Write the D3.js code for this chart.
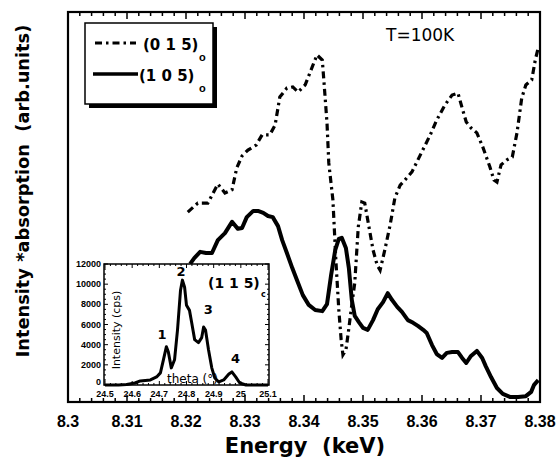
<!DOCTYPE html>
<html>
<head>
<meta charset="utf-8">
<script src="https://cdn.jsdelivr.net/npm/d3@7"></script>
<style>
  body { margin: 0; background: #fff; }
  svg { display: block; }
</style>
</head>
<body>
<svg id="chart" width="558" height="462"></svg>
<script>
// main spectra, (0 1 5)o dash-dot and (1 0 5)o solid
let energy015 = [8.3203, 8.3220, 8.3237, 8.3254, 8.3266, 8.3278, 8.3286, 8.3295, 8.3305, 8.3319,
  8.3329, 8.3342, 8.3351, 8.3359, 8.3371, 8.3381, 8.3390, 8.3402, 8.3410, 8.3422,
  8.3431, 8.3434, 8.3439, 8.3442, 8.3449, 8.3454, 8.3459, 8.3463, 8.3466, 8.3471,
  8.3475, 8.3481, 8.3486, 8.3492, 8.3498, 8.3503, 8.3508, 8.3517, 8.3524, 8.3529,
  8.3537, 8.3546, 8.3554, 8.3563, 8.3571, 8.3583, 8.3597, 8.3614, 8.3625, 8.3639,
  8.3651, 8.3661, 8.3668, 8.3675, 8.3683, 8.3693, 8.3703, 8.3715, 8.3722, 8.3727,
  8.3734, 8.3744, 8.3753, 8.3761, 8.3769, 8.3776, 8.3786, 8.3792, 8.3797]
let absorb015 = [48.7, 51.0, 51.0, 55.9, 53.6, 54.4, 60.0, 63.1, 64.6, 65.9,
  68.5, 68.5, 71.0, 78.2, 80.5, 80.8, 79.5, 81.3, 84.4, 89.0,
  87.7, 81.8, 71.5, 61.3, 51.8, 36.4, 23.6, 15.9, 12.1, 13.3,
  17.7, 24.9, 30.5, 44.9, 51.3, 51.0, 46.7, 39.0, 35.1, 33.8,
  39.0, 45.4, 52.3, 55.6, 56.9, 59.0, 63.3, 68.5, 72.3, 76.2,
  78.7, 79.2, 75.4, 71.8, 70.3, 69.0, 65.4, 60.3, 56.9, 56.4,
  60.8, 62.1, 62.8, 69.0, 77.9, 81.3, 82.6, 87.7, 90.8]

let energy105 = [8.3207, 8.3214, 8.3224, 8.3234, 8.3244, 8.3254, 8.3266, 8.3278, 8.3288, 8.3295,
  8.3303, 8.3314, 8.3322, 8.3331, 8.3339, 8.3347, 8.3356, 8.3363, 8.3371, 8.3380,
  8.3388, 8.3398, 8.3408, 8.3419, 8.3431, 8.3439, 8.3446, 8.3453, 8.3459, 8.3464,
  8.3471, 8.3476, 8.3481, 8.3486, 8.3493, 8.3500, 8.3508, 8.3517, 8.3525, 8.3534,
  8.3542, 8.3549, 8.3558, 8.3566, 8.3576, 8.3585, 8.3593, 8.3602, 8.3608, 8.3617,
  8.3625, 8.3634, 8.3642, 8.3651, 8.3661, 8.3668, 8.3675, 8.3683, 8.3693, 8.3702,
  8.3708, 8.3717, 8.3727, 8.3737, 8.3749, 8.3763, 8.3776, 8.3785, 8.3790, 8.3797]
let absorb105 = [35.4, 36.9, 38.5, 38.2, 38.2, 41.5, 43.3, 46.2, 44.4, 44.6,
  47.4, 49.0, 49.0, 48.5, 47.7, 47.4, 45.1, 41.5, 38.2, 34.4,
  31.3, 27.4, 24.9, 23.6, 23.3, 25.1, 32.6, 39.0, 41.8, 42.1,
  39.5, 34.4, 26.2, 22.1, 20.5, 19.0, 18.5, 21.0, 23.8, 25.6,
  27.9, 26.2, 24.4, 23.1, 21.0, 20.3, 19.5, 18.5, 17.7, 14.6,
  12.3, 11.3, 12.6, 12.8, 12.8, 11.3, 10.0, 11.8, 13.1, 11.3,
  9.2, 6.4, 3.6, 2.1, 1.3, 1.3, 1.5, 2.6, 4.4, 5.6]

// inset: rocking scan of (1 1 5)c
let thetaInset = [24.5, 24.55, 24.58, 24.61, 24.63, 24.667, 24.69, 24.704, 24.715, 24.726,
  24.733, 24.744, 24.756, 24.767, 24.778, 24.785, 24.793, 24.80, 24.811, 24.819,
  24.83, 24.844, 24.856, 24.863, 24.87, 24.881, 24.893, 24.904, 24.919, 24.937,
  24.956, 24.967, 24.981, 24.996, 25.019, 25.1]
let cpsInset = [0, 0, 50, 200, 400, 500, 800, 1200, 2500, 3800,
  3300, 1700, 2500, 5500, 9400, 10400, 9700, 7900, 7400, 6200,
  4500, 4200, 4700, 5750, 5450, 3500, 1700, 700, 300, 500,
  1100, 1300, 800, 200, 0, 0]

let xTicks = [8.3, 8.31, 8.32, 8.33, 8.34, 8.35, 8.36, 8.37, 8.38]
let xTickLabels = ["8.3", "8.31", "8.32", "8.33", "8.34", "8.35", "8.36", "8.37", "8.38"]
let insetXTicks = [24.5, 24.6, 24.7, 24.8, 24.9, 25, 25.1]
let insetYTicks = [0, 2000, 4000, 6000, 8000, 10000, 12000]
let peakNames = ["1", "2", "3", "4"]
let peakTheta = [24.71, 24.78, 24.88, 24.98]
let peakCps = [4600, 10800, 7000, 2200]

let svg = d3.select("#chart")
let boldFont = "'Liberation Sans', Arial, sans-serif"
let wideFont = "'DejaVu Sans', sans-serif"

let plotLeft = 68, plotRight = 540, plotTop = 12, plotBottom = 402

let x = d3.scaleLinear().domain([8.3, 8.38]).range([plotLeft, plotRight])
let y = d3.scaleLinear().domain([0, 100]).range([plotBottom, plotTop])

// frame
svg.append("rect")
    .attr("x", plotLeft).attr("y", plotTop)
    .attr("width", plotRight - plotLeft).attr("height", plotBottom - plotTop)
    .attr("fill", "none").attr("stroke", "#000").attr("stroke-width", 2.2)

// inward ticks top & bottom
let minorTicks = d3.range(0, 41).map(i => 8.3 + i * 0.002)
minorTicks.forEach((t, i) => {
    let len = (i % 5 === 0) ? 7 : 4
    svg.append("line").attr("x1", x(t)).attr("x2", x(t))
        .attr("y1", plotBottom).attr("y2", plotBottom - len)
        .attr("stroke", "#000").attr("stroke-width", 1.5)
    svg.append("line").attr("x1", x(t)).attr("x2", x(t))
        .attr("y1", plotTop).attr("y2", plotTop + len)
        .attr("stroke", "#000").attr("stroke-width", 1.5)
})

svg.selectAll(".xlab")
    .data(xTicks)
    .enter()
    .append("text")
    .attr("x", d => x(d))
    .attr("y", 427)
    .attr("text-anchor", "middle")
    .attr("font-family", boldFont)
    .attr("font-weight", "bold")
    .attr("font-size", 16)
    .text((d, i) => xTickLabels[i])

svg.append("text")
    .attr("x", 305).attr("y", 453)
    .attr("text-anchor", "middle")
    .attr("font-family", wideFont)
    .attr("font-weight", "bold")
    .attr("font-size", 21)
    .attr("xml:space", "preserve")
    .text("Energy  (keV)")

svg.append("text")
    .attr("transform", "translate(29,191) rotate(-90)")
    .attr("text-anchor", "middle")
    .attr("font-family", wideFont)
    .attr("font-weight", "bold")
    .attr("font-size", 17.8)
    .attr("xml:space", "preserve")
    .text("Intensity *absorption  (arb.units)")

// curves
let line015 = d3.line().x((d, i) => x(energy015[i])).y(d => y(d)).curve(d3.curveLinear)
let line105 = d3.line().x((d, i) => x(energy105[i])).y(d => y(d)).curve(d3.curveLinear)

svg.append("path")
    .attr("d", line015(absorb015))
    .attr("fill", "none").attr("stroke", "#000")
    .attr("stroke-width", 3.2)
    .attr("stroke-dasharray", "7,4,2.5,4")

svg.append("path")
    .attr("d", line105(absorb105))
    .attr("fill", "none").attr("stroke", "#000")
    .attr("stroke-width", 4)
    .attr("stroke-linejoin", "round")

svg.append("text")
    .attr("x", 386).attr("y", 41)
    .attr("font-family", wideFont)
    .attr("font-size", 17)
    .text("T=100K")

// legend
svg.append("rect").attr("x", 89).attr("y", 27).attr("width", 128).attr("height", 81).attr("fill", "#000")
svg.append("rect").attr("x", 85).attr("y", 23).attr("width", 128).attr("height", 81)
    .attr("fill", "#fff").attr("stroke", "#000").attr("stroke-width", 1.5)

svg.append("line").attr("x1", 95).attr("x2", 136).attr("y1", 43).attr("y2", 43)
    .attr("stroke", "#000").attr("stroke-width", 3).attr("stroke-dasharray", "7,4,2.5,4")
svg.append("line").attr("x1", 93).attr("x2", 138).attr("y1", 74).attr("y2", 74)
    .attr("stroke", "#000").attr("stroke-width", 3.5)

let legendNames = ["(0 1 5)", "(1 0 5)"]
let legendY = [50, 81]
legendNames.forEach((n, i) => {
    svg.append("text")
        .attr("x", i === 0 ? 143 : 139).attr("y", legendY[i])
        .attr("font-family", wideFont)
        .attr("font-weight", "bold")
        .attr("font-size", 15)
        .attr("xml:space", "preserve")
        .text(n)
    svg.append("text")
        .attr("x", 199).attr("y", legendY[i] + 11)
        .attr("font-family", boldFont)
        .attr("font-weight", "bold")
        .attr("font-size", 11)
        .text("o")
})

// inset
let ix = d3.scaleLinear().domain([24.5, 25.1]).range([105, 268])
let iy = d3.scaleLinear().domain([0, 12000]).range([385, 264])

let inset = svg.append("g")
inset.append("rect")
    .attr("x", 104).attr("y", 264).attr("width", 165).attr("height", 121)
    .attr("fill", "#fff").attr("stroke", "#000").attr("stroke-width", 1.5)

d3.range(0, 31).forEach(i => {
    let t = 24.5 + i * 0.02
    let len = (i % 5 === 0) ? 4 : 2
    inset.append("line").attr("x1", ix(t)).attr("x2", ix(t)).attr("y1", 385).attr("y2", 385 - len)
        .attr("stroke", "#000").attr("stroke-width", 1)
    inset.append("line").attr("x1", ix(t)).attr("x2", ix(t)).attr("y1", 264).attr("y2", 264 + len)
        .attr("stroke", "#000").attr("stroke-width", 1)
})
d3.range(0, 25).forEach(i => {
    let v = i * 500
    let len = (i % 4 === 0) ? 4 : 2
    inset.append("line").attr("x1", 104).attr("x2", 104 + len).attr("y1", iy(v)).attr("y2", iy(v))
        .attr("stroke", "#000").attr("stroke-width", 1)
    inset.append("line").attr("x1", 269).attr("x2", 269 - len).attr("y1", iy(v)).attr("y2", iy(v))
        .attr("stroke", "#000").attr("stroke-width", 1)
})

inset.selectAll(".ixl")
    .data(insetXTicks)
    .enter()
    .append("text")
    .attr("x", d => ix(d)).attr("y", 397)
    .attr("text-anchor", "middle")
    .attr("font-family", boldFont).attr("font-weight", "bold").attr("font-size", 9)
    .text(d => d)

inset.selectAll(".iyl")
    .data(insetYTicks)
    .enter()
    .append("text")
    .attr("x", 101).attr("y", d => iy(d) + (d === 0 ? 0 : 3))
    .attr("text-anchor", "end")
    .attr("font-family", boldFont).attr("font-weight", "bold").attr("font-size", 9)
    .text(d => d)

let insetLine = d3.line().x((d, i) => ix(thetaInset[i])).y(d => iy(d))
inset.append("path")
    .attr("d", insetLine(cpsInset))
    .attr("fill", "none").attr("stroke", "#000")
    .attr("stroke-width", 3).attr("stroke-linejoin", "round")

inset.append("text")
    .attr("transform", "translate(120,330) rotate(-90)")
    .attr("text-anchor", "middle")
    .attr("font-family", wideFont).attr("font-size", 11)
    .text("Intensity (cps)")

inset.append("text")
    .attr("x", 167).attr("y", 383)
    .attr("font-family", wideFont).attr("font-size", 12)
    .text("theta (°)")

inset.selectAll(".pk")
    .data(peakNames)
    .enter()
    .append("text")
    .attr("x", (d, i) => ix(peakTheta[i]))
    .attr("y", (d, i) => iy(peakCps[i]))
    .attr("text-anchor", "middle")
    .attr("font-family", wideFont).attr("font-weight", "bold").attr("font-size", 13)
    .text(d => d)

inset.append("text")
    .attr("x", 208).attr("y", 288)
    .attr("font-family", wideFont).attr("font-weight", "bold").attr("font-size", 14)
    .text("(1 1 5)")
inset.append("text")
    .attr("x", 261).attr("y", 297)
    .attr("font-family", wideFont).attr("font-weight", "bold").attr("font-size", 8)
    .text("c")
</script>
</body>
</html>
